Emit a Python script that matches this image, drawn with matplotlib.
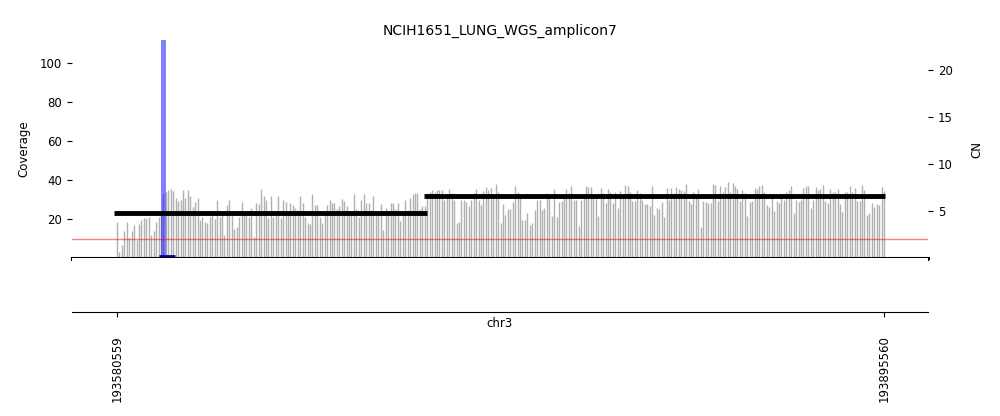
import numpy as np
import matplotlib
matplotlib.use('Agg')
import matplotlib.pyplot as plt

title = 'NCIH1651_LUNG_WGS_amplicon7'
chrom = 'chr3'
region_start = 193580559
region_end = 193895560
view_lim = (193562078, 193913630)

# coverage per window, read left to right
coverage = [
    18.6, 3, 6.7, 14, 18.6, 10.4, 13.6, 16.9, 9.2, 17.4, 19.5, 20.4, 20.4, 21.1, 12, 14, 18.6, 21, 22, 33,
    34, 35, 35.6, 34.5, 31, 29, 30, 35, 31, 35, 32, 26, 28.6, 31, 19.5, 21, 18.6, 17.8, 21.2, 22, 20, 29.5, 21,
    22, 11.8, 27.2, 29.7, 23.8, 14.7, 15.7, 20.9, 28.9, 24.3, 22, 21.2, 25.5, 11, 28, 27.7, 35.2, 31.8, 29.7, 20.3,
    31.8, 21.2, 23, 31.8, 20.3, 30, 28.9, 23.8, 28.4, 27.2, 25.5, 24.6, 31.8, 28.4, 21.2, 18.1, 17.4, 32.8, 27.2, 27.2,
    21.2, 17.8, 22, 27.2,
    30, 28, 28, 25, 26.7, 30.3, 29.4, 26.7, 23.8, 22, 32.8, 25, 20.9, 30, 32.8, 28.4, 28.4, 24.6, 31.8, 22,
    24.3, 27.7, 14.4, 25.5, 22, 28.4, 28.4, 25, 28, 19.1, 24.3, 29.7, 24.6, 30.6, 32.8, 33.5, 33.2, 25, 26.7, 26.5,
    33.2, 34, 34.9, 34, 34.9,
    34.9, 34.9, 29.7, 31, 35.2, 33.5, 29.7, 17.8, 18.6, 29.7, 30, 28.9, 26.7, 29.7, 33.2, 35.2, 29.7, 27.2, 34.5, 36.2,
    34.9, 35.7, 30.6, 38, 34, 17.8, 27.7, 22, 25, 25, 28.9, 36.9, 34, 32.8, 19.5, 19.5, 23, 16.9, 18.1, 24.6,
    29.7, 30, 24.6, 25.5, 33.5,
    32.3, 21.5, 35.2, 20.9, 28.9, 29.4, 32.8, 35.2, 33.2, 36.9, 30, 29.7, 16.4, 29.7, 30.6, 36.9, 36.2, 36.6, 32.3, 30.6,
    21.5, 35.7, 33.5, 28.4, 35.2, 34, 28.4, 34, 25.5, 34.5, 32.3, 37.4, 36.9, 34, 29.4, 29.4, 34.9, 33.5, 29.7, 27.7,
    27.7, 26.7, 36.9, 22, 25.5,
    25, 28.9, 20.9, 35.7, 29.7, 35.7, 33.5, 36.2, 35.2, 34.9, 34.5, 38, 29.4, 27.7, 34, 32.3, 35.2, 15.7, 29.4, 28.9,
    28.4, 28.4, 38, 37.4, 29.4, 36.9, 34, 36.2, 39, 34, 38.6, 36.9, 35.2, 29.4, 34.9, 33.2, 21.5, 28.9, 29.4, 35.7,
    35.2, 36.9, 37.4, 34, 27.2,
    26.3, 32.3, 24.3, 29.4, 28, 32.8, 29.7, 34, 34.9, 36.9, 23.2, 29.7, 28.9, 29.7, 35.7, 36.9, 36.9, 25.5, 29.7, 36.2,
    34.9, 35.2, 37.4, 29.4, 28, 35.2, 34, 34, 35.2, 27.7, 23.8, 34, 34, 36.9, 34, 35.7, 29.4, 29.4, 37.4, 34.9,
    22, 23.2, 28, 26.3, 27.7, 27.2, 36.2, 34.5,
]

# copy number segments
seg_start = [193579327, 193706640]
seg_end = [193707875, 193895970]
seg_cn = [4.8, 6.6]

# breakpoint marker
bp_pos = 193599656
bp_width = 2050
bp_span = (193597900, 193604400)

cov_max = 111.8
cn_max = 23.2
cn_ref = 2

fig = plt.figure(figsize=(10, 4.16), dpi=100)
ax = fig.add_axes([0.072, 0.3798, 0.856, 0.524])
ax2 = ax.twinx()
ax3 = fig.add_axes([0.072, 0.25, 0.856, 0.1298])

pos = np.linspace(region_start, region_end, len(coverage))
ax.vlines(pos, 0, coverage, color='#b0b0b0', lw=1)
ax.bar(bp_pos, cov_max * 2, width=bp_width, bottom=0, color='blue', alpha=0.5, zorder=3)
ax.hlines(0.8, bp_span[0], bp_span[1], color='#0000a0', lw=2, zorder=4)
ax.plot(view_lim, [0, 0], color='k', lw=2.2, clip_on=False, zorder=5)
ax.vlines(view_lim, -1.5, 0, color='k', lw=1.5, clip_on=False)

ax2.hlines(seg_cn, seg_start, seg_end, color='k', lw=3.5, zorder=4)
ax2.axhline(cn_ref, color='r', lw=1, alpha=0.5)

ax.set_xlim(view_lim)
ax.set_ylim(0, cov_max)
ax2.set_ylim(0, cn_max)
ax.set_yticks([20, 40, 60, 80, 100])
ax2.set_yticks([5, 10, 15, 20])
ax.set_xticks([])
for a in (ax, ax2):
    for s in a.spines.values():
        s.set_visible(False)
    a.tick_params(labelsize=8.5, length=3.5)
ax.set_ylabel('Coverage', fontsize=8.5, labelpad=7)
ax2.set_ylabel('CN', fontsize=8.5, labelpad=13)
ax.set_title(title, fontsize=10, pad=4)

ax3.set_xlim(view_lim)
ax3.set_yticks([])
for s in ['top', 'left', 'right']:
    ax3.spines[s].set_visible(False)
ax3.set_xticks([region_start, region_end])
ax3.set_xticklabels([str(region_start), str(region_end)], rotation=90, fontsize=8.5)
ax3.tick_params(axis='x', pad=13, length=3.5)
ax3.set_xlabel(chrom, fontsize=8.5)
ax3.xaxis.set_label_coords(0.5, -0.09)

fig.savefig('out.png', dpi=100)
